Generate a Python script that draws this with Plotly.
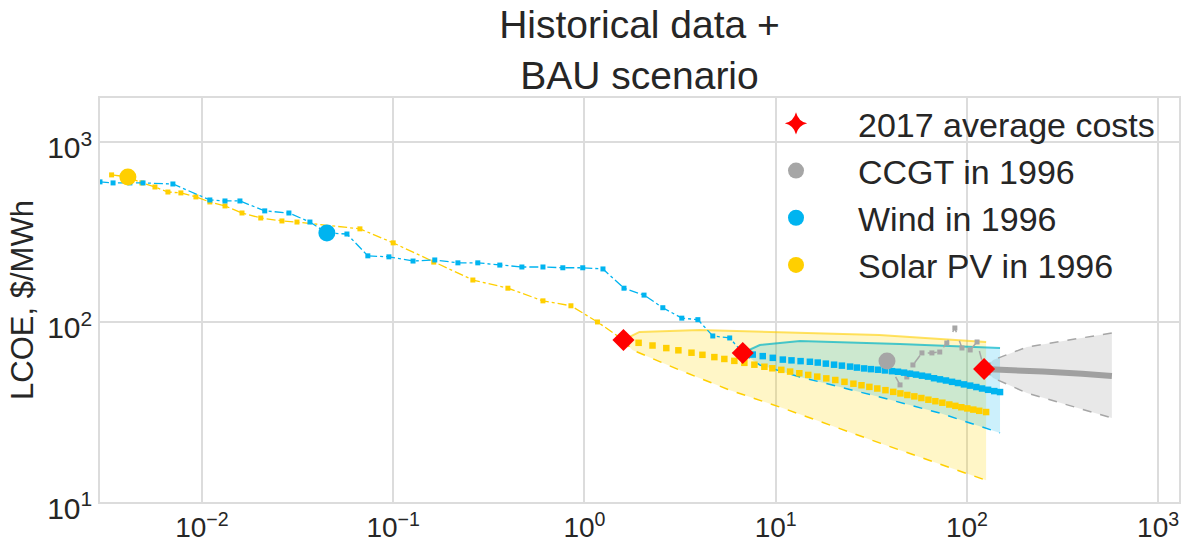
import plotly.graph_objects as go

# ---------------- data ----------------
solar_hist_x = [0.00337, 0.0041, 0.00485, 0.00568, 0.00664, 0.00776, 0.0093, 0.0110, 0.0132, 0.0162,
                0.0203, 0.0262, 0.0314, 0.067, 0.1, 0.163, 0.261, 0.398, 0.607, 0.85, 1.17, 1.6]
solar_hist_y = [656, 639, 592, 562, 527, 521, 495, 464, 441, 403,
                378, 364, 359, 329, 275, 215, 171, 154, 131, 123, 100, 79.4]

wind_hist_x = [0.00293, 0.00343, 0.0042, 0.00492, 0.00705, 0.0110, 0.0132, 0.0158, 0.0213, 0.0285,
               0.0367, 0.045, 0.0573, 0.0737, 0.095, 0.127, 0.165, 0.218, 0.277, 0.361,
               0.471, 0.607, 0.771, 0.98, 1.25, 1.61, 2.05, 2.57, 3.23, 3.92, 4.69, 5.75, 6.73]
wind_hist_y = [600, 592, 592, 592, 584, 476, 470, 470, 414, 403,
               359, 312, 308, 233, 230, 218, 221, 213, 213, 207,
               202, 202, 200, 200, 197, 154, 141, 120, 105, 103, 83.6, 81.5, 67.3]

ccgt_hist_x = [38.2, 44.7, 48.5, 52.2, 58.2, 65.6, 72.1, 78.5, 86.5, 94.2, 104, 113, 123]
ccgt_hist_y = [60.7, 44.7, 49.5, 57.7, 67.3, 67.3, 68.1, 76.4, 92.6, 71.7, 69.9, 77.4, 54.8]

# 1996 points
y1996_x = {"CCGT": 38.2, "Wind": 0.045, "Solar PV": 0.0041}
y1996_y = {"CCGT": 60.7, "Wind": 312, "Solar PV": 639}

# 2017 average costs
avg2017_x = [1.6, 6.73, 123]
avg2017_y = [79.4, 67.3, 54.8]

# BAU medians
solar_bau_x = [1.6, 1.92, 2.27, 2.68, 3.10, 3.63, 4.14, 4.78, 5.39, 6.08, 6.86, 7.74, 8.73, 9.61,
               10.7, 11.9, 13.3, 14.8, 16.5, 18.4, 20.5, 22.9, 25.5, 28.1, 30.9, 34.0, 37.5, 41.2,
               44.9, 48.8, 53.1, 57.8, 62.9, 68.4, 74.4, 80.9, 87.0, 93.5, 100.5, 108, 116, 126]
solar_bau_y = [79.4, 76.6, 74.0, 71.6, 69.6, 67.5, 65.7, 63.8, 62.3, 60.8, 59.3, 57.9, 56.4, 55.3,
               54.2, 53.0, 51.9, 50.8, 49.7, 48.6, 47.6, 46.5, 45.4, 44.5, 43.6, 42.7, 41.8, 40.9,
               40.1, 39.3, 38.6, 37.8, 37.0, 36.3, 35.6, 34.8, 34.2, 33.6, 33.1, 32.6, 32.1, 31.6]

wind_bau_x = [6.73, 7.59, 8.56, 9.66, 10.9, 12.1, 13.5, 15.1, 16.6, 18.3, 20.2, 22.2, 24.5, 26.6,
              29.0, 31.5, 34.3, 37.3, 40.6, 43.6, 46.9, 50.4, 54.2, 58.2, 62.6, 67.3, 72.3, 77.7,
              83.6, 89.8, 96.5, 104, 112, 120, 129, 139, 149]
wind_bau_y = [67.3, 65.9, 64.6, 63.2, 61.8, 61.2, 60.6, 60.1, 59.5, 58.7, 57.9, 57.2, 56.5, 55.8,
              55.2, 54.7, 54.3, 53.8, 53.3, 52.9, 52.3, 51.6, 51.0, 50.3, 49.7, 48.7, 48.0, 47.3,
              46.5, 45.8, 45.0, 44.3, 43.5, 42.7, 42.0, 41.3, 40.8]

ccgt_bau_x = [123, 150, 250, 400, 573]
ccgt_bau_y = [54.8, 54.5, 53.0, 51.5, 50.1]

# BAU uncertainty bands
solar_up_x = [1.6, 1.94, 4.0, 10.5, 34.9, 126]
solar_up_y = [79.4, 88.0, 90.3, 88.0, 84.7, 77.4]
solar_lo_x = [1.6, 1.78, 3.14, 5.73, 10.5, 34.9, 126]
solar_lo_y = [79.4, 69.9, 54.1, 41.9, 33.7, 21.3, 13.2]

wind_up_x = [6.73, 8.26, 13.4, 44.6, 149]
wind_up_y = [67.3, 74.5, 78.4, 75.5, 71.7]
wind_lo_x = [6.73, 8.26, 13.4, 35.0, 72.1, 149]
wind_lo_y = [67.3, 57.7, 49.5, 38.3, 31.2, 24.2]

ccgt_up_x = [123, 137, 206, 573]
ccgt_up_y = [54.8, 61.5, 72.6, 86.9]
ccgt_lo_x = [123, 137, 206, 573]
ccgt_lo_y = [54.8, 48.9, 40.3, 29.3]

x_tickvals = [0.01, 0.1, 1, 10, 100, 1000]
x_ticktext = ["10<sup>−2</sup>", "10<sup>−1</sup>", "10<sup>0</sup>", "10<sup>1</sup>",
              "10<sup>2</sup>", "10<sup>3</sup>"]
y_tickvals = [10, 100, 1000]
y_ticktext = ["10<sup>1</sup>", "10<sup>2</sup>", "10<sup>3</sup>"]

# ---------------- styles ----------------
YELLOW = "#FFCF00"
BLUE = "#00B4F0"
GRAY = "#A6A6A6"
RED = "#FF0000"
FONT = "Liberation Sans, Arial, sans-serif"
TXT = "#262626"

fig = go.Figure()


def band(ux, uy, lx, ly, fillcolor):
    fig.add_trace(go.Scatter(x=list(ux) + list(lx)[::-1], y=list(uy) + list(ly)[::-1],
                             fill="toself", fillcolor=fillcolor, mode="lines",
                             line=dict(width=0), showlegend=False, hoverinfo="skip"))


band(ccgt_up_x, ccgt_up_y, ccgt_lo_x, ccgt_lo_y, "rgba(190,190,190,0.35)")
band(solar_up_x, solar_up_y, solar_lo_x, solar_lo_y, "rgba(255,214,0,0.22)")
band(wind_up_x, wind_up_y, wind_lo_x, wind_lo_y, "rgba(0,180,240,0.20)")

# band edges
edge_specs = [
    (ccgt_up_x, ccgt_up_y, GRAY, "dash", 1.5),
    (ccgt_lo_x, ccgt_lo_y, GRAY, "dash", 1.5),
    (solar_up_x, solar_up_y, "rgba(255,207,0,0.6)", "solid", 2),
    (solar_lo_x, solar_lo_y, YELLOW, "dash", 1.5),
    (wind_up_x, wind_up_y, "rgba(0,180,200,0.7)", "solid", 2),
    (wind_lo_x, wind_lo_y, BLUE, "dash", 1.5),
]
for ex, ey, c, d, w in edge_specs:
    fig.add_trace(go.Scatter(x=ex, y=ey, mode="lines", line=dict(color=c, dash=d, width=w),
                             showlegend=False, hoverinfo="skip"))

# historical series
fig.add_trace(go.Scatter(x=solar_hist_x, y=solar_hist_y, mode="lines+markers",
                         line=dict(color=YELLOW, dash="dashdot", width=1.3),
                         marker=dict(symbol="square", size=5, color=YELLOW), showlegend=False))
fig.add_trace(go.Scatter(x=wind_hist_x, y=wind_hist_y, mode="lines+markers",
                         line=dict(color=BLUE, dash="dashdot", width=1.3),
                         marker=dict(symbol="square", size=5, color=BLUE), showlegend=False))
fig.add_trace(go.Scatter(x=ccgt_hist_x, y=ccgt_hist_y, mode="lines+markers",
                         line=dict(color=GRAY, dash="dash", width=1.5),
                         marker=dict(symbol="square", size=5, color=GRAY), showlegend=False))

# BAU medians
fig.add_trace(go.Scatter(x=ccgt_bau_x, y=ccgt_bau_y, mode="lines",
                         line=dict(color="#A0A0A0", width=6), showlegend=False))
fig.add_trace(go.Scatter(x=solar_bau_x, y=solar_bau_y, mode="markers",
                         marker=dict(symbol="square", size=6.5, color=YELLOW), showlegend=False))
fig.add_trace(go.Scatter(x=wind_bau_x, y=wind_bau_y, mode="markers",
                         marker=dict(symbol="square", size=6.5, color=BLUE), showlegend=False))

# 1996 points
colors1996 = {"CCGT": GRAY, "Wind": BLUE, "Solar PV": YELLOW}
for k in ["CCGT", "Wind", "Solar PV"]:
    fig.add_trace(go.Scatter(x=[y1996_x[k]], y=[y1996_y[k]], mode="markers",
                             marker=dict(symbol="circle", size=17, color=colors1996[k]),
                             showlegend=False))

# 2017 average costs
fig.add_trace(go.Scatter(x=avg2017_x, y=avg2017_y, mode="markers",
                         marker=dict(symbol="diamond", size=17, color=RED), showlegend=False))

# legend entries
fig.add_trace(go.Scatter(x=[None], y=[None], mode="markers", name="2017 average costs",
                         marker=dict(symbol="star-diamond", size=16, color=RED)))
for k in ["CCGT", "Wind", "Solar PV"]:
    fig.add_trace(go.Scatter(x=[None], y=[None], mode="markers", name=f"{k} in 1996",
                             marker=dict(symbol="circle", size=16, color=colors1996[k])))

GRID = "#DCDCDC"
fig.update_layout(
    width=1183, height=543,
    margin=dict(l=100, r=4, t=98, b=41, autoexpand=False),
    paper_bgcolor="white", plot_bgcolor="white",
    font=dict(family=FONT, color=TXT),
    title=dict(text="Historical data +<br>BAU scenario", x=0.5, xref="paper",
               y=1 - 38 / 543, yref="container", yanchor="top",
               font=dict(size=39, family=FONT, color=TXT)),
    legend=dict(x=(734 - 100) / 1079, xanchor="left", y=1.008, yanchor="top",
                bgcolor="rgba(0,0,0,0)", font=dict(size=34, family=FONT, color=TXT),
                itemwidth=114, tracegroupgap=0),
    xaxis=dict(type="log", range=[-2.533, 3.109], tickvals=x_tickvals, ticktext=x_ticktext,
               showgrid=True, gridcolor=GRID, gridwidth=1.5, zeroline=False,
               showline=True, linecolor=GRID, linewidth=1.5, mirror=True, automargin=False,
               tickfont=dict(size=28, family=FONT, color=TXT), ticks=""),
    yaxis=dict(type="log", range=[1.0, 3.244], tickvals=y_tickvals, ticktext=y_ticktext,
               showgrid=True, gridcolor=GRID, gridwidth=1.5, zeroline=False,
               showline=True, linecolor=GRID, linewidth=1.5, mirror=True, automargin=False,
               tickfont=dict(size=30, family=FONT, color=TXT), ticks="",
               ticklabelshift=6,
               title=dict(text="LCOE, $/MWh", font=dict(size=31, family=FONT, color=TXT),
                          standoff=4)),
)

fig.write_html("out.html")
